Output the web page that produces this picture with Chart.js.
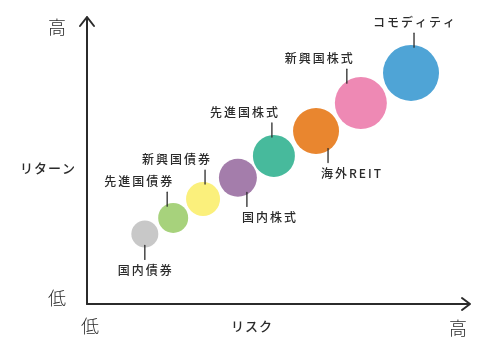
<!DOCTYPE html>
<html lang="ja">
<head>
<meta charset="utf-8">
<title>リスクとリターン</title>
<script src="https://cdn.jsdelivr.net/npm/chart.js@4/dist/chart.umd.min.js"></script>
<style>
  html, body { margin: 0; padding: 0; background: #fff; }
  #wrap { width: 480px; height: 342px; }
</style>
</head>
<body>
<div id="wrap"><canvas id="grafico" width="480" height="342"></canvas></div>
<script>
// Datos: clase de activo, riesgo (x), retorno (y), tamaño de burbuja
const activos  = ['国内債券', '先進国債券', '新興国債券', '国内株式', '先進国株式', '海外REIT', '新興国株式', 'コモディティ'];
const riesgo   = [15.1, 22.5, 30.3, 39.4, 48.8, 59.8, 71.5, 84.6];
const retorno  = [24.4, 30.0, 36.6, 44.0, 51.6, 60.3, 70.0, 80.5];
const tamano   = [13.5, 15, 17, 19, 21, 23, 26, 28];
const colores  = ['#c8c8c8', '#a7d27c', '#fbf07c', '#a47dab', '#47ba9c', '#e9862f', '#ee89b4', '#4fa4d6'];

// Ejes
const ejeY = { alto: '高', titulo: 'リターン', bajo: '低' };
const ejeX = { bajo: '低', titulo: 'リスク', alto: '高' };

// Posición de cada etiqueta: lado (-1 arriba, 1 abajo), desplazamiento de la línea y del texto
const etiquetas = [
    { lado:  1, dx: 0,   tx: 0 },
    { lado: -1, dx: -6,  tx: -29 },
    { lado: -1, dx: 2,   tx: -29 },
    { lado:  1, dx: 9,   tx: 22 },
    { lado: -1, dx: -2,  tx: -28 },
    { lado:  1, dx: 12,  tx: 23 },
    { lado: -1, dx: -14, tx: -28 },
    { lado: -1, dx: 3,   tx: 0 }
];

const TINTA = '#2b2b2b';
const FUENTE = '"Noto Sans CJK JP", "Noto Sans", sans-serif';

// Plugin: flechas de los ejes y textos
const pluginEjes = {
    id: 'ejes',
    afterDatasetsDraw(chart) {
        const { ctx, chartArea: a } = chart;
        ctx.save();
        ctx.strokeStyle = TINTA;
        ctx.lineWidth = 2;
        ctx.lineCap = 'round';
        ctx.lineJoin = 'round';

        // Eje Y con flecha
        ctx.beginPath();
        ctx.moveTo(a.left, a.bottom);
        ctx.lineTo(a.left, a.top);
        ctx.moveTo(a.left - 7, a.top + 9);
        ctx.lineTo(a.left, a.top);
        ctx.lineTo(a.left + 7, a.top + 9);
        ctx.stroke();

        // Eje X con flecha
        ctx.beginPath();
        ctx.moveTo(a.left, a.bottom);
        ctx.lineTo(a.right, a.bottom);
        ctx.moveTo(a.right - 8, a.bottom - 6);
        ctx.lineTo(a.right, a.bottom);
        ctx.lineTo(a.right - 8, a.bottom + 6);
        ctx.stroke();

        ctx.fillStyle = TINTA;
        ctx.textAlign = 'center';
        ctx.textBaseline = 'middle';

        ctx.font = '300 18px ' + FUENTE;
        ctx.fillText(ejeY.alto, a.left - 30, a.top + 10);
        ctx.fillText(ejeY.bajo, a.left - 30, a.bottom - 6);
        ctx.fillText(ejeX.bajo, a.left + 3, a.bottom + 22);
        ctx.fillText(ejeX.alto, a.right - 12, a.bottom + 24);

        ctx.font = '500 13px ' + FUENTE;
        ctx.letterSpacing = '1px';
        ctx.fillText(ejeY.titulo, a.left - 39, 168);
        ctx.fillText(ejeX.titulo, 252, a.bottom + 22);

        // Etiquetas de las burbujas
        const meta = chart.getDatasetMeta(0);
        ctx.font = '500 12px ' + FUENTE;
        ctx.letterSpacing = '2px';
        ctx.lineWidth = 1.3;
        meta.data.forEach((p, i) => {
            const e = etiquetas[i];
            const r = tamano[i];
            const lx = p.x + e.dx;
            const borde = p.y + e.lado * Math.sqrt(Math.max(r * r - e.dx * e.dx, 0));
            const ini = borde - e.lado * 2;
            const fin = borde + e.lado * 12;
            ctx.beginPath();
            ctx.moveTo(lx, ini);
            ctx.lineTo(lx, fin);
            ctx.stroke();
            ctx.fillText(activos[i], lx + e.tx + 1, fin + e.lado * 11);
        });
        ctx.restore();
    }
};

const ctx = document.getElementById('grafico').getContext('2d');
new Chart(ctx, {
    type: 'bubble',
    data: {
        labels: activos,
        datasets: [{
            label: 'リスクとリターン',
            data: riesgo.map((x, i) => ({ x: x, y: retorno[i], r: tamano[i] })),
            backgroundColor: colores,
            borderColor: colores,
            borderWidth: 0,
            hoverBorderWidth: 0
        }]
    },
    options: {
        responsive: false,
        animation: false,
        layout: { autoPadding: false, padding: { left: 87, right: 10, top: 17, bottom: 38 } },
        plugins: {
            legend: { display: false },
            tooltip: { enabled: false }
        },
        scales: {
            x: { type: 'linear', min: 0, max: 100, display: false },
            y: { type: 'linear', min: 0, max: 100, display: false }
        }
    },
    plugins: [pluginEjes]
});
</script>
</body>
</html>
